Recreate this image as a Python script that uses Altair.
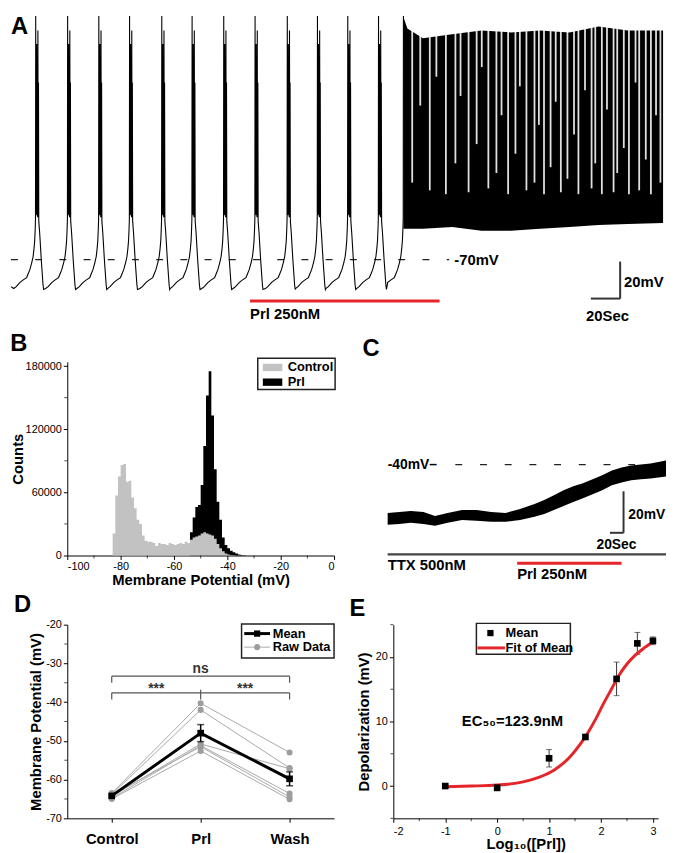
import altair as alt
import pandas as pd

FONT = "Liberation Sans"
RED = "#e4262b"
CTRL_GRAY = "#c2c2c2"
RAW_GRAY = "#9d9d9d"
LINE_GRAY = "#a9a9a9"
BRACKET = "#555555"

# ====================== DATA ======================
# ---- Panel A: bursting trace (time in s, membrane potential in mV) ----
a_burst_t = [16.9, 38.7, 60.0, 81.0, 103.0, 123.7, 145.3, 166.7, 188.7, 209.3, 230.0, 251.0]
a_onset_t = 268.0          # start of Prl-evoked tonic firing
a_onset_rise = 11.3        # duration of the last slow depolarisation
a_wave_dt = [-15.0, -13.3, -10.7, -8.5, -6.2, -4.0, -2.7, -1.8, -1.2, -0.7, -0.35, -0.15,
             0.0, 0.1, 0.3, 0.5, 0.7, 0.9, 1.1, 1.3, 1.5, 1.7, 1.9, 2.1,
             2.7, 3.8, 5.0, 5.4]
a_wave_mv = [-85.0, -84.0, -81.8, -80.5, -79.3, -75.2, -71.5, -68.5, -64.5, -60.2, -54.0, -49.0,
             56.5, -47.0, 35.0, -46.0, 42.0, -47.0, 30.0, -48.0, 49.0, -48.0, 22.0, -50.0,
             -56.0, -70.0, -83.0, -85.5]
a_start_t = [0.0]
a_start_mv = [-84.0]
a_tonic_t = [268.0, 270.7, 281.3, 301.3, 321.3, 341.3, 361.3, 381.3, 401.3, 421.3, 445.3]
a_tonic_top = [56.0, 50.0, 45.0, 47.0, 49.0, 48.0, 49.0, 48.0, 51.0, 49.0, 49.0]
a_tonic_bot = [-54.0, -54.0, -54.0, -53.0, -55.0, -55.0, -54.0, -53.0, -52.0, -51.5, -51.0]
a_pause_t = [274.0, 279.5, 286.0, 290.5, 297.0, 303.5, 307.0, 312.5, 318.0, 321.5,
             326.0, 331.5, 335.0, 339.5, 344.5, 347.5, 352.0, 357.5, 360.5, 364.0,
             368.5, 372.0, 375.5, 380.0, 384.5, 387.5, 392.0, 396.5, 399.0, 403.5,
             407.0, 411.5, 414.0, 418.5, 422.0, 426.5, 429.0, 433.5, 437.0, 440.5, 443.5]
a_pause_lo = [-30, 10, -34, 25, -36, -20, 15, -35, -10, 30,
              -33, -25, 5, -36, -15, 20, -34, -30, 0, -36,
              -22, 12, -35, -28, -5, -36, 18, -33, -20, -36,
              8, -35, -25, -12, -36, 22, -34, -18, -36, 5, -30]

# ---- Panel B: histograms (1 mV bins) ----
b_ctrl_first_bin = -83
b_ctrl_counts = [21000, 57000, 75000, 86000, 87000, 70000, 71000, 55000, 45000, 34000,
                 30000, 19000, 14000, 13000, 13000, 12000, 9000, 12000, 11000, 11000,
                 10000, 12000, 11000, 10000, 11000, 12000, 11000, 13000, 12000, 15000,
                 17000, 18000, 19000, 21000, 22000, 21000, 20000, 19000, 16000, 11000,
                 7000, 4000, 2000, 1000, 500, 200]
b_prl_first_bin = -54
b_prl_counts = [22000, 36000, 46000, 48000, 67000, 104000, 152000, 175000, 133000, 82000,
                51000, 34000, 17000, 10000, 7000, 4500, 3000, 1800, 1000, 500, 200]
b_series = ["Control", "Prl"]
b_x_ticks = [-100, -80, -60, -40, -20, 0]
b_x_minor = [-90, -70, -50, -30, -10]
b_y_ticks = [0, 60000, 120000, 180000]
b_y_minor = [30000, 90000, 150000]

# ---- Panel C: TTX trace envelope ----
c_t = [0.0, 17.1, 34.3, 52.9, 70.0, 88.6, 110.0, 131.4, 152.9, 174.3, 195.7, 217.1, 231.4,
       245.7, 260.0, 274.3, 288.6, 302.9, 317.1, 331.4, 345.7, 360.0, 374.3, 388.6, 411.4]
c_hi = [-63.3, -62.9, -62.4, -62.9, -64.8, -63.3, -61.9, -61.9, -62.9, -63.3, -61.4, -59.0, -57.1,
        -54.8, -52.4, -50.5, -49.0, -47.1, -45.2, -42.9, -41.4, -40.5, -40.0, -39.5, -38.1]
c_lo = [-69.0, -68.6, -68.1, -68.6, -69.5, -68.1, -66.7, -67.1, -67.6, -67.6, -66.7, -65.2, -63.8,
        -61.9, -60.0, -58.1, -56.2, -54.3, -52.4, -50.0, -48.6, -47.6, -47.1, -46.7, -45.7]

# ---- Panel D ----
d_conditions = ["Control", "Prl", "Wash"]
d_raw_control = [-63.5, -63.8, -64.3, -64.8, -65.0, -64.0]
d_raw_prl = [-40.3, -42.0, -50.8, -51.2, -52.6, -51.5]
d_raw_wash = [-53.0, -57.0, -57.2, -63.6, -65.1, -64.5]
d_mean = [-64.2, -48.0, -59.8]
d_sem = [0.3, 2.2, 1.8]
d_y_ticks = [-70, -60, -50, -40, -30, -20]
d_y_minor = [-65, -55, -45, -35, -25]

# ---- Panel E ----
e_logc = [-1, 0, 1, 1.7, 2.3, 2.7, 3]
e_depol = [0.0, -0.25, 4.3, 7.6, 16.6, 22.1, 22.5]
e_err = [0.15, 0.5, 1.35, 0.35, 2.6, 1.7, 0.6]
e_fit_x = [-1.0, -0.5, 0.0, 0.2, 0.5, 0.8, 1.1, 1.4, 1.6, 1.75, 1.9, 2.05, 2.2, 2.35, 2.5, 2.65, 2.8, 3.0]
e_fit_y = [-0.1, 0.0, 0.15, 0.28, 0.65, 1.35, 2.5, 4.5, 6.5, 8.3, 10.4, 12.8, 15.0, 17.2, 18.9, 20.2, 21.2, 22.3]
e_x_ticks = [-2, -1, 0, 1, 2, 3]
e_x_minor = [-1.5, -0.5, 0.5, 1.5, 2.5]
e_y_ticks = [0, 10, 20]
e_y_minor = [-5, 5, 15, 25]

HYPHEN_LABEL = "'' + datum.value"   # plain hyphen-minus like the original


# ====================== HELPERS ======================
class Frame:
    """Shared scales + axes for every layer of one panel."""

    def __init__(self, xs, ys, xaxis=None, yaxis=None):
        self.xs, self.ys, self.xa, self.ya = xs, ys, xaxis, yaxis

    def X(self, f):
        return alt.X(f, scale=self.xs, axis=self.xa)

    def Y(self, f, **kw):
        return alt.Y(f, scale=self.ys, axis=self.ya, **kw)

    def XD(self, v):
        return alt.X(datum=v, scale=self.xs, axis=self.xa)

    def YD(self, v):
        return alt.Y(datum=v, scale=self.ys, axis=self.ya)


def texts(fr, rows, size=14, align="left", color="black", weight="bold", baseline="middle"):
    df = pd.DataFrame(rows, columns=["label", "px", "py"])
    return alt.Chart(df).mark_text(font=FONT, fontSize=size, fontWeight=weight, align=align,
                                   baseline=baseline, color=color).encode(
        x=fr.X("px:Q"), y=fr.Y("py:Q"), text="label:N")


def segs(fr, rows, color="black", width=1.0, dash=None, opacity=1.0):
    df = pd.DataFrame(rows, columns=["x1", "x2", "y1", "y2"])
    kw = dict(color=color, strokeWidth=width, opacity=opacity)
    if dash:
        kw["strokeDash"] = dash
    return alt.Chart(df).mark_rule(**kw).encode(
        x=fr.X("x1:Q"), x2="x2:Q", y=fr.Y("y1:Q"), y2="y2:Q")


def rects(fr, rows, fill, stroke=None, width=0):
    df = pd.DataFrame(rows, columns=["x1", "x2", "y1", "y2"])
    kw = dict(fill=fill, strokeWidth=width, opacity=1)
    if stroke:
        kw["stroke"] = stroke
    return alt.Chart(df).mark_rect(**kw).encode(
        x=fr.X("x1:Q"), x2="x2:Q", y=fr.Y("y1:Q"), y2="y2:Q")


def minor_y(fr, values, x_at):
    return alt.Chart(pd.DataFrame({"v": values})).mark_tick(
        orient="horizontal", size=3, thickness=1, xOffset=-1.5, color="black").encode(
        x=fr.XD(x_at), y=fr.Y("v:Q"))


def minor_x(fr, values, y_at):
    return alt.Chart(pd.DataFrame({"v": values})).mark_tick(
        orient="vertical", size=3, thickness=1, yOffset=1.5, color="black").encode(
        x=fr.X("v:Q"), y=fr.YD(y_at))


# ====================== PANEL A ======================
rows = [{"t": t, "v": v} for t, v in zip(a_start_t, a_start_mv)]
for bt in a_burst_t:
    rows += [{"t": bt + dt, "v": v} for dt, v in zip(a_wave_dt, a_wave_mv)]
rows += [{"t": a_onset_t + dt, "v": v} for dt, v in zip(a_wave_dt, a_wave_mv)
         if -a_onset_rise <= dt <= 0]
a_trace = pd.DataFrame(rows)
a_tonic = pd.DataFrame({"t": a_tonic_t, "top": a_tonic_top, "bot": a_tonic_bot})
a_pause = pd.DataFrame({"t": a_pause_t, "lo": a_pause_lo, "hi": [57] * len(a_pause_t)})

# the plot origin of this row is aligned with the axes of panels B/D below,
# so the first ~57 px of the trace are drawn to the left of the origin
FA = Frame(alt.Scale(domain=[38.46, 445.3], nice=False, zero=False),
           alt.Scale(domain=[-101, 57], nice=False, zero=False))
a_line = alt.Chart(a_trace).mark_line(color="black", strokeWidth=1.1).encode(
    x=FA.X("t:Q"), y=FA.Y("v:Q"), order="t:Q")
a_area = alt.Chart(a_tonic).mark_area(color="black").encode(x=FA.X("t:Q"), y=FA.Y("bot:Q"), y2="top:Q")
a_gaps = alt.Chart(a_pause).mark_rule(color="white", strokeWidth=1.8, opacity=0.88).encode(
    x=FA.X("t:Q"), y=FA.Y("lo:Q"), y2="hi:Q")
a_dash = segs(FA, [(0, 299.3, -70, -70)], color="#222", width=1.3, dash=[7, 17.5])
a_red = segs(FA, [(163.3, 292.7, -91.5, -91.5)], color=RED, width=3)
a_bar = segs(FA, [(416, 416, -71, -90.2), (396, 416, -90.2, -90.2)], color="#333", width=2)
a_txt = texts(FA, [("-70mV", 302.7, -70), ("Prl 250nM", 163.3, -98.5),
                   ("20mV", 418.7, -81.5), ("20Sec", 392.7, -99.5)], size=15)
a_letter = texts(FA, [("A", 0, 57)], size=24, baseline="top")
chart_a = alt.layer(a_dash, a_line, a_area, a_gaps, a_red, a_bar, a_txt, a_letter).properties(
    width=603, height=308)

# ====================== PANEL B ======================
hist_rows = []
for name, first, counts in (("Prl", b_prl_first_bin, b_prl_counts),
                            ("Control", b_ctrl_first_bin, b_ctrl_counts)):
    for i, c in enumerate(counts):
        hist_rows.append({"series": name, "edge": first + i, "count": c})
    hist_rows.append({"series": name, "edge": first + len(counts), "count": counts[-1]})
b_hist = pd.DataFrame(hist_rows)

FB = Frame(alt.Scale(domain=[-100, 0], nice=False, zero=False),
           alt.Scale(domain=[0, 184000], nice=False, zero=False),
           alt.Axis(values=b_x_ticks, labelExpr=HYPHEN_LABEL, title="Membrane Potential (mV)",
                    labelPadding=1, titlePadding=1),
           alt.Axis(values=b_y_ticks, format="d", title="Counts", titlePadding=0))
b_colors = {"Control": CTRL_GRAY, "Prl": "#000000"}


def b_layer(name):
    return alt.Chart(b_hist).transform_filter(alt.datum.series == name).mark_area(
        interpolate="step-after", color=b_colors[name], opacity=1).encode(
        x=FB.X("edge:Q"), y=FB.Y("count:Q", stack=None))


b_leg_box = rects(FB, [(-28.6, 0.4, 187500, 157700)], fill="white", stroke="#222", width=1.5)
b_leg_sw1 = rects(FB, [(-26.7, -19.4, 182200, 175200)], fill=CTRL_GRAY)
b_leg_sw2 = rects(FB, [(-26.7, -19.4, 168200, 161200)], fill="black")
b_leg_tx = texts(FB, [(b_series[0], -17.4, 178700), (b_series[1], -17.4, 164700)], size=13)
chart_b = alt.layer(b_layer("Prl"), b_layer("Control"), minor_y(FB, b_y_minor, -100),
                    minor_x(FB, b_x_minor, 0), b_leg_box, b_leg_sw1, b_leg_sw2, b_leg_tx).properties(
    width=270, height=196, title=alt.TitleParams("B", anchor="start", frame="bounds"))

# ====================== PANEL C ======================
# plot top is aligned with panel B's plot top; the letter sits above it
FC = Frame(alt.Scale(domain=[-47.1, 411.4], nice=False, zero=False),
           alt.Scale(domain=[-96.7, 9.5], nice=False, zero=False))
c_df = pd.DataFrame({"t": c_t, "hi": c_hi, "lo": c_lo})
c_band = alt.Chart(c_df).mark_area(color="black", interpolate="linear").encode(
    x=FC.X("t:Q"), y=FC.Y("lo:Q"), y2="hi:Q")
c_dash = segs(FC, [(100, 395.7, -40, -40)], color="#222", width=1.3, dash=[7, 18])
c_bar = segs(FC, [(348.6, 348.6, -52.9, -72.9), (328.6, 348.6, -72.9, -72.9)], color="#333", width=2)
c_ttx = segs(FC, [(0, 411.4, -83.3, -83.3)], color="#444", width=2.5)
c_red = segs(FC, [(191.4, 345.7, -87.6, -87.6)], color=RED, width=3)
c_txt15 = texts(FC, [("TTX 500nM", 0, -88.6), ("Prl 250nM", 191.4, -92.9)], size=15)
c_txt14 = texts(FC, [("-40mV\u2013", 0, -40), ("20mV", 355.7, -64.1), ("20Sec", 308.6, -78.6)], size=14)
c_letter = texts(FC, [("C", -37.1, 21.4)], size=24, baseline="top")
chart_c = alt.layer(c_dash, c_band, c_bar, c_ttx, c_red, c_txt15, c_txt14, c_letter).properties(
    width=314, height=223)

# ====================== PANEL D ======================
FD = Frame(alt.Scale(domain=[-0.5, 2.5], nice=False, zero=False),
           alt.Scale(domain=[-70, -20], nice=False, zero=False),
           alt.Axis(values=[0, 1, 2], labelExpr="['Control','Prl','Wash'][datum.value]",
                    labelFontSize=15, labelFontWeight="bold", labelPadding=9, title=None),
           alt.Axis(values=d_y_ticks, labelExpr=HYPHEN_LABEL, title="Membrane Potential (mV)",
                    titlePadding=2))
d_rows = []
for i, triple in enumerate(zip(d_raw_control, d_raw_prl, d_raw_wash)):
    for k, v in enumerate(triple):
        d_rows.append({"cell": i, "idx": k, "mv": v})
d_raw = pd.DataFrame(d_rows)
d_m = pd.DataFrame({"idx": [0, 1, 2], "cond": d_conditions, "mv": d_mean,
                    "lo": [m - s for m, s in zip(d_mean, d_sem)],
                    "hi": [m + s for m, s in zip(d_mean, d_sem)]})

d_lines = alt.Chart(d_raw).mark_line(color=LINE_GRAY, strokeWidth=1).encode(
    x=FD.X("idx:Q"), y=FD.Y("mv:Q"), detail="cell:N")
d_pts = alt.Chart(d_raw).mark_circle(color=RAW_GRAY, size=38, opacity=1).encode(
    x=FD.X("idx:Q"), y=FD.Y("mv:Q"))
d_mline = alt.Chart(d_m).mark_line(color="black", strokeWidth=3).encode(x=FD.X("idx:Q"), y=FD.Y("mv:Q"))
d_err = alt.Chart(d_m).mark_rule(color="black", strokeWidth=1.5).encode(
    x=FD.X("idx:Q"), y=FD.Y("lo:Q"), y2="hi:Q")
d_cap_lo = alt.Chart(d_m).mark_tick(orient="horizontal", size=7, thickness=1.5, color="black").encode(
    x=FD.X("idx:Q"), y=FD.Y("lo:Q"))
d_cap_hi = alt.Chart(d_m).mark_tick(orient="horizontal", size=7, thickness=1.5, color="black").encode(
    x=FD.X("idx:Q"), y=FD.Y("hi:Q"))
d_msq = alt.Chart(d_m).mark_square(color="black", size=45, opacity=1).encode(x=FD.X("idx:Q"), y=FD.Y("mv:Q"))
d_brackets = segs(FD, [(0, 2, -33.3, -33.3), (0, 0, -33.3, -35.0), (2, 2, -33.3, -35.0),
                       (0, 1, -37.6, -37.6), (1, 2, -37.6, -37.6),
                       (0, 0, -37.6, -39.3), (2, 2, -37.6, -39.3), (1, 1, -36.8, -39.3)],
                  color=BRACKET, width=1.2)
d_sig = texts(FD, [("ns", 1, -31.4), ("***", 0.5, -36.5), ("***", 1.5, -36.5)],
              size=14, align="center", color="#333")
d_leg_box = rects(FD, [(1.46, 2.5, -19.8, -28.6)], fill="white", stroke="#222", width=1.5)
d_leg_l1 = segs(FD, [(1.49, 1.78, -22.3, -22.3)], color="black", width=3)
d_leg_l2 = segs(FD, [(1.49, 1.78, -25.8, -25.8)], color=LINE_GRAY, width=1)
d_leg_sq = alt.Chart(pd.DataFrame({"x": [1.635], "y": [-22.3]})).mark_square(
    color="black", size=40, opacity=1).encode(x=FD.X("x:Q"), y=FD.Y("y:Q"))
d_leg_ci = alt.Chart(pd.DataFrame({"x": [1.635], "y": [-25.8]})).mark_circle(
    color=RAW_GRAY, size=38, opacity=1).encode(x=FD.X("x:Q"), y=FD.Y("y:Q"))
d_leg_tx = texts(FD, [("Mean", 1.81, -22.3), ("Raw Data", 1.81, -25.8)], size=13)

chart_d = alt.layer(d_lines, d_pts, d_mline, d_err, d_cap_lo, d_cap_hi, d_msq,
                    minor_y(FD, d_y_minor, -0.5), d_brackets, d_sig,
                    d_leg_box, d_leg_l1, d_leg_l2, d_leg_sq, d_leg_ci, d_leg_tx).properties(
    width=270, height=196, title=alt.TitleParams("D", anchor="start", frame="bounds", dx=-15))

# ====================== PANEL E ======================
FE = Frame(alt.Scale(domain=[-2, 3.1], nice=False, zero=False),
           alt.Scale(domain=[-5, 25], nice=False, zero=False),
           alt.Axis(values=e_x_ticks, labelExpr=HYPHEN_LABEL, title="Log\u2081\u2080([Prl])",
                    labelPadding=3, titlePadding=1),
           alt.Axis(values=e_y_ticks, format="d", title="Depolarization (mV)", titlePadding=4))
e_df = pd.DataFrame({"x": e_logc, "y": e_depol,
                     "lo": [a - b for a, b in zip(e_depol, e_err)],
                     "hi": [a + b for a, b in zip(e_depol, e_err)]})
e_fit = pd.DataFrame({"x": e_fit_x, "y": e_fit_y})

e_err_r = alt.Chart(e_df).mark_rule(color="#333", strokeWidth=1).encode(
    x=FE.X("x:Q"), y=FE.Y("lo:Q"), y2="hi:Q")
e_cap_lo = alt.Chart(e_df).mark_tick(orient="horizontal", size=6, thickness=1, color="#333").encode(
    x=FE.X("x:Q"), y=FE.Y("lo:Q"))
e_cap_hi = alt.Chart(e_df).mark_tick(orient="horizontal", size=6, thickness=1, color="#333").encode(
    x=FE.X("x:Q"), y=FE.Y("hi:Q"))
e_curve = alt.Chart(e_fit).mark_line(color=RED, strokeWidth=3, interpolate="monotone").encode(
    x=FE.X("x:Q"), y=FE.Y("y:Q"))
e_pts = alt.Chart(e_df).mark_square(color="black", size=45, opacity=1).encode(x=FE.X("x:Q"), y=FE.Y("y:Q"))
e_leg_box = rects(FE, [(-0.4, 1.41, 25.2, 20.4)], fill="white", stroke="#222", width=1.5)
e_leg_sq = alt.Chart(pd.DataFrame({"x": [-0.13], "y": [23.7]})).mark_square(
    color="black", size=40, opacity=1).encode(x=FE.X("x:Q"), y=FE.Y("y:Q"))
e_leg_ln = segs(FE, [(-0.38, 0.15, 21.4, 21.4)], color=RED, width=3)
e_leg_tx = texts(FE, [("Mean", 0.16, 23.7), ("Fit of Mean", 0.16, 21.4)], size=13)
e_ec50 = texts(FE, [("EC\u2085\u2080=123.9nM", -0.68, 10.05)], size=15)

chart_e = alt.layer(e_err_r, e_cap_lo, e_cap_hi, e_curve, e_pts,
                    minor_x(FE, e_x_minor, -5), minor_y(FE, e_y_minor, -2),
                    e_leg_box, e_leg_sq, e_leg_ln, e_leg_tx, e_ec50).properties(
    width=268, height=196, title=alt.TitleParams("E", anchor="start", frame="bounds", dx=-7))

# ====================== LAYOUT ======================
row2 = alt.hconcat(chart_b, chart_c, spacing=20)
row3 = alt.hconcat(chart_d, chart_e, spacing=14)
chart = alt.vconcat(chart_a, row2, row3, spacing=6).properties(padding=0).configure(
    font=FONT).configure_view(stroke=None).configure_axis(
    grid=False, domainColor="black", tickColor="black", labelColor="black", titleColor="black",
    labelFont=FONT, titleFont=FONT, labelFontSize=11, titleFontSize=15, titleFontWeight="bold",
    tickSize=4, domainWidth=1).configure_title(
    font=FONT, fontSize=24, fontWeight="bold", anchor="start", offset=2, color="black")

chart.save("out.html", embed_options={"renderer": "svg", "actions": False})
